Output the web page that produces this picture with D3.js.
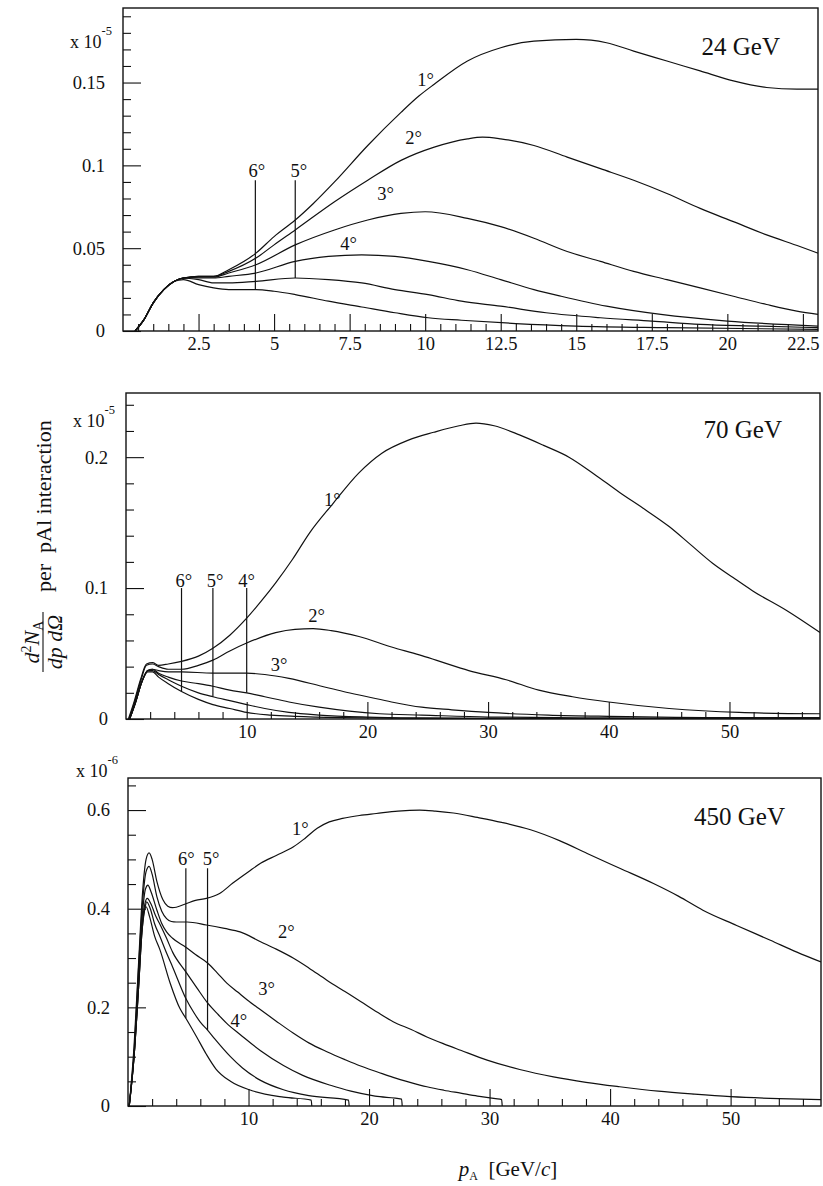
<!DOCTYPE html>
<html>
<head>
<meta charset="utf-8">
<script src="https://cdn.jsdelivr.net/npm/d3@7"></script>
<style>
  html, body { margin: 0; padding: 0; background: #fff; }
  svg { display: block; font-family: "Liberation Serif", "DejaVu Serif", serif; }
</style>
</head>
<body>
<svg id="fig" width="823" height="1186"></svg>
<script>
// Angular production spectra d2N/dp dOmega per pAl interaction,
// one curve per production angle, for three beam momenta.

const angleNames = ["1°", "2°", "3°", "4°", "5°", "6°"];

// ---- 24 GeV beam (values in units of 1e-5) ----
const p24_1 = [[0.4,0],[0.7,0.007],[1.0,0.017],[1.35,0.025],[1.7,0.030],[2.0,0.032],[2.5,0.033],[3.0,0.033],[3.5,0.037],[4.4,0.047],[5.0,0.057],[5.7,0.067],[6.3,0.077],[7.0,0.090],[8.1,0.112],[9.2,0.132],[9.8,0.142],[10.3,0.149],[11.4,0.163],[12.5,0.171],[13.6,0.175],[15.0,0.176],[16.0,0.174],[16.9,0.169],[18.0,0.163],[19.1,0.157],[20.2,0.151],[21.3,0.147],[22.3,0.146],[23.0,0.146]];
const p24_2 = [[0.4,0],[0.7,0.007],[1.0,0.017],[1.35,0.025],[1.7,0.030],[2.0,0.032],[2.5,0.033],[3.0,0.033],[3.5,0.036],[4.4,0.044],[5.0,0.052],[5.7,0.061],[7.0,0.078],[8.1,0.091],[9.2,0.103],[10.3,0.111],[11.4,0.116],[11.9,0.117],[12.5,0.116],[13.6,0.112],[14.7,0.105],[15.8,0.098],[16.9,0.091],[18.0,0.083],[19.1,0.074],[20.2,0.066],[21.3,0.058],[22.4,0.051],[23.0,0.047]];
const p24_3 = [[0.4,0],[0.7,0.007],[1.0,0.017],[1.35,0.025],[1.7,0.030],[2.0,0.032],[2.5,0.0325],[3.0,0.0325],[3.5,0.035],[4.4,0.040],[5.7,0.052],[7.0,0.061],[8.1,0.067],[9.2,0.071],[10.0,0.072],[11.4,0.068],[12.5,0.063],[13.6,0.056],[14.7,0.048],[15.8,0.042],[16.9,0.036],[18.0,0.031],[19.1,0.026],[20.2,0.021],[21.3,0.016],[22.3,0.012],[23.0,0.010]];
const p24_4 = [[0.4,0],[0.7,0.007],[1.0,0.017],[1.35,0.025],[1.7,0.030],[2.0,0.032],[2.5,0.032],[3.0,0.032],[3.5,0.033],[4.4,0.035],[5.7,0.042],[6.8,0.045],[7.9,0.046],[9.0,0.045],[10.1,0.042],[11.4,0.037],[12.5,0.031],[13.6,0.025],[14.5,0.021],[16.0,0.015],[17.8,0.010],[20.0,0.006],[23.0,0.003]];
const p24_5 = [[0.4,0],[0.7,0.007],[1.0,0.017],[1.35,0.025],[1.7,0.030],[2.0,0.032],[2.5,0.031],[3.0,0.029],[3.5,0.029],[4.4,0.030],[5.7,0.032],[6.8,0.031],[7.9,0.029],[9.0,0.025],[10.1,0.022],[11.2,0.018],[12.5,0.015],[14.0,0.011],[15.8,0.008],[17.5,0.006],[19.1,0.004],[21.0,0.003],[23.0,0.002]];
const p24_6 = [[0.4,0],[0.7,0.007],[1.0,0.017],[1.35,0.025],[1.7,0.030],[2.0,0.031],[2.5,0.028],[3.0,0.026],[3.5,0.025],[4.4,0.025],[5.0,0.024],[5.7,0.022],[6.8,0.018],[7.9,0.0145],[9.0,0.011],[10.1,0.008],[11.2,0.0065],[13.0,0.0045],[15.0,0.003],[18.0,0.002],[23.0,0.001]];

// ---- 70 GeV beam (units of 1e-5) ----
const p70_1 = [[0.2,0],[0.7,0.014],[1.2,0.030],[1.7,0.042],[2.2,0.043],[2.7,0.041],[3.5,0.042],[4.6,0.044],[6.0,0.048],[7.2,0.054],[8.6,0.064],[10.0,0.077],[11.2,0.090],[12.4,0.104],[13.8,0.122],[15.2,0.142],[17.1,0.164],[19.3,0.188],[21.2,0.203],[23.4,0.213],[25.5,0.219],[27.6,0.224],[29.0,0.226],[30.5,0.224],[32.6,0.217],[34.6,0.209],[36.7,0.200],[38.8,0.187],[40.9,0.173],[43.0,0.160],[45.0,0.147],[46.8,0.133],[48.6,0.119],[50.3,0.108],[51.9,0.098],[54.7,0.083],[57.5,0.066]];
const p70_2 = [[0.25,0],[0.75,0.014],[1.25,0.030],[1.7,0.041],[2.2,0.042],[2.7,0.040],[3.5,0.038],[4.6,0.038],[6.0,0.041],[7.2,0.045],[8.6,0.052],[10.0,0.058],[12.4,0.066],[14.0,0.0685],[15.5,0.069],[17.0,0.0675],[19.3,0.063],[22.0,0.055],[24.3,0.049],[26.0,0.044],[28.4,0.037],[31.5,0.030],[34.2,0.022],[37.0,0.017],[40.0,0.013],[45.0,0.008],[50.8,0.005],[57.5,0.004]];
const p70_3 = [[0.3,0],[0.8,0.013],[1.3,0.028],[1.8,0.037],[2.2,0.038],[2.7,0.037],[3.5,0.036],[4.6,0.036],[7.2,0.035],[10.0,0.035],[11.5,0.034],[13.5,0.031],[16.2,0.025],[18.0,0.021],[20.0,0.017],[22.0,0.013],[24.5,0.009],[27.0,0.007],[30.0,0.005],[35.0,0.003],[40.0,0.002],[50.0,0.001],[57.5,0.001]];
const p70_4 = [[0.3,0],[0.8,0.013],[1.3,0.028],[1.8,0.037],[2.2,0.038],[2.7,0.035],[3.5,0.032],[4.6,0.029],[6.0,0.027],[7.2,0.025],[8.6,0.022],[10.0,0.020],[11.5,0.017],[13.5,0.013],[16.0,0.009],[18.5,0.006],[21.0,0.004],[24.5,0.003],[30.0,0.0015],[40.0,0.0008],[57.5,0.0003]];
const p70_5 = [[0.3,0],[0.8,0.013],[1.3,0.028],[1.8,0.037],[2.2,0.037],[2.7,0.034],[3.5,0.030],[4.6,0.025],[6.0,0.020],[7.2,0.017],[8.6,0.014],[10.0,0.011],[11.5,0.008],[13.5,0.005],[16.0,0.003],[20.0,0.0015],[25.0,0.0008],[35.0,0.0003],[57.5,0.0001]];
const p70_6 = [[0.3,0],[0.8,0.013],[1.3,0.028],[1.8,0.036],[2.2,0.036],[2.7,0.032],[3.5,0.027],[4.6,0.021],[6.0,0.015],[7.2,0.011],[8.6,0.008],[10.0,0.005],[12.0,0.003],[14.0,0.002],[18.0,0.001],[25.0,0.0004],[57.5,0.0001]];

// ---- 450 GeV beam (units of 1e-6) ----
const p450_1 = [[0.1,0],[0.5,0.12],[0.9,0.30],[1.2,0.43],[1.5,0.50],[1.75,0.513],[2.0,0.50],[2.4,0.455],[2.9,0.418],[3.3,0.405],[3.7,0.402],[4.7,0.409],[5.6,0.417],[6.5,0.421],[7.6,0.431],[8.7,0.452],[10.0,0.475],[11.0,0.492],[12.3,0.508],[13.7,0.525],[14.7,0.543],[15.7,0.563],[16.7,0.576],[17.8,0.583],[19.2,0.589],[20.6,0.593],[22.4,0.598],[24.2,0.600],[25.5,0.598],[27.0,0.594],[29.0,0.585],[31.0,0.575],[33.4,0.560],[35.8,0.538],[38.1,0.512],[40.8,0.482],[43.6,0.451],[45.7,0.425],[47.7,0.397],[50.5,0.366],[53.3,0.336],[55.5,0.312],[57.5,0.292]];
const p450_2 = [[0.1,0],[0.5,0.11],[0.9,0.29],[1.2,0.41],[1.5,0.475],[1.75,0.486],[2.0,0.47],[2.4,0.424],[2.8,0.395],[3.2,0.38],[3.6,0.374],[4.0,0.373],[4.9,0.373],[6.5,0.367],[8.0,0.360],[9.3,0.353],[11.0,0.333],[12.3,0.318],[13.7,0.300],[15.0,0.280],[16.5,0.255],[18.0,0.232],[19.3,0.212],[20.7,0.190],[22.0,0.171],[23.5,0.155],[24.8,0.140],[26.2,0.126],[27.6,0.113],[29.8,0.093],[32.5,0.074],[35.3,0.059],[38.0,0.048],[40.8,0.039],[44.0,0.030],[47.0,0.024],[50.0,0.019],[54.0,0.015],[57.5,0.013]];
const p450_3 = [[0.1,0],[0.5,0.10],[0.9,0.27],[1.2,0.39],[1.45,0.44],[1.65,0.448],[1.9,0.435],[2.4,0.397],[2.8,0.37],[3.2,0.353],[3.7,0.340],[4.8,0.322],[5.6,0.307],[6.6,0.290],[7.4,0.270],[8.2,0.249],[9.1,0.231],[9.9,0.215],[11.0,0.195],[12.3,0.172],[13.7,0.148],[15.0,0.128],[16.5,0.110],[18.0,0.094],[19.3,0.081],[20.7,0.069],[22.0,0.058],[23.4,0.048],[24.8,0.039],[26.2,0.032],[27.6,0.026],[29.0,0.020],[30.5,0.015],[31.0,0.013],[31.05,0]];
const p450_4 = [[0.1,0],[0.5,0.10],[0.9,0.25],[1.15,0.36],[1.4,0.41],[1.6,0.421],[1.9,0.41],[2.3,0.385],[2.7,0.366],[3.2,0.340],[3.7,0.312],[4.8,0.272],[5.7,0.240],[6.6,0.209],[7.5,0.185],[8.3,0.165],[9.3,0.145],[11.0,0.112],[12.9,0.082],[14.5,0.062],[16.8,0.042],[18.5,0.030],[20.5,0.020],[22.7,0.014],[22.75,0]];
const p450_5 = [[0.1,0],[0.5,0.10],[0.9,0.25],[1.15,0.35],[1.4,0.40],[1.55,0.414],[1.85,0.40],[2.2,0.37],[2.66,0.343],[3.2,0.31],[3.7,0.282],[4.8,0.218],[5.5,0.188],[6.0,0.170],[6.6,0.154],[7.2,0.136],[8.5,0.100],[9.5,0.077],[11.0,0.052],[12.9,0.033],[15.0,0.021],[18.3,0.012],[18.35,0]];
const p450_6 = [[0.1,0],[0.5,0.10],[0.9,0.25],[1.15,0.35],[1.35,0.395],[1.5,0.404],[1.8,0.383],[2.2,0.345],[2.66,0.316],[3.5,0.249],[4.3,0.198],[4.8,0.178],[5.7,0.140],[6.5,0.105],[7.3,0.075],[8.5,0.050],[10.3,0.031],[12.9,0.018],[15.2,0.012],[15.25,0]];

// tick values and labels
const xTicks24 = [2.5, 5, 7.5, 10, 12.5, 15, 17.5, 20, 22.5];
const yTicks24 = [0, 0.05, 0.1, 0.15];
const xTicks70 = [10, 20, 30, 40, 50];
const yTicks70 = [0, 0.1, 0.2];
const xTicks450 = [10, 20, 30, 40, 50];
const yTicks450 = [0, 0.2, 0.4, 0.6];

// angle marker lines: position on the momentum axis and upper end
const markers24 = [{ a: 5, x: 4.38, top: 0.091 }, { a: 4, x: 5.7, top: 0.091 }];
const markers70 = [{ a: 5, x: 4.6, top: 0.1 }, { a: 4, x: 7.2, top: 0.1 }, { a: 3, x: 10.0, top: 0.1 }];
const markers450 = [{ a: 5, x: 4.8, top: 0.482 }, { a: 4, x: 6.6, top: 0.482 }];

// angle labels (left edge / baseline, in data units)
const labels24 = [{ a: 0, x: 9.74, y: 0.148 }, { a: 1, x: 9.34, y: 0.113 }, { a: 2, x: 8.41, y: 0.079 }, { a: 3, x: 7.19, y: 0.049 }, { a: 5, x: 4.15, y: 0.093 }, { a: 4, x: 5.54, y: 0.093 }];
const labels70 = [{ a: 0, x: 16.4, y: 0.163 }, { a: 1, x: 15.1, y: 0.074 }, { a: 2, x: 12.0, y: 0.037 }, { a: 5, x: 4.1, y: 0.101 }, { a: 4, x: 6.7, y: 0.101 }, { a: 3, x: 9.3, y: 0.101 }];
const labels450 = [{ a: 0, x: 13.6, y: 0.549 }, { a: 1, x: 12.45, y: 0.340 }, { a: 2, x: 10.8, y: 0.225 }, { a: 3, x: 8.5, y: 0.160 }, { a: 5, x: 4.15, y: 0.488 }, { a: 4, x: 6.2, y: 0.488 }];

const svg = d3.select("#fig");
const INK = "#111";
const SERIF = "'Liberation Serif', 'DejaVu Serif', serif";

const panels = [
  {
    id: "p24", energy: "24 GeV", exp: "-5",
    left: 123, right: 818, top: 8, bottom: 331,
    xDomain: [0, 23], yDomain: [0, 0.195],
    series: [p24_1, p24_2, p24_3, p24_4, p24_5, p24_6],
    xMajor: xTicks24, xMinor: d3.range(0.5, 23, 0.5), yMajor: yTicks24, yMinor: d3.range(0.01, 0.195, 0.01),
    markers: markers24, labels: labels24,
    expPos: [70, 48], energyPos: [780, 55]
  },
  {
    id: "p70", energy: "70 GeV", exp: "-5",
    left: 126, right: 820, top: 393, bottom: 719,
    xDomain: [0, 57.5], yDomain: [0, 0.249],
    series: [p70_1, p70_2, p70_3, p70_4, p70_5, p70_6],
    xMajor: xTicks70, xMinor: d3.range(2, 57.5, 2), yMajor: yTicks70, yMinor: d3.range(0.02, 0.249, 0.02),
    markers: markers70, labels: labels70,
    expPos: [73, 427], energyPos: [782, 438]
  },
  {
    id: "p450", energy: "450 GeV", exp: "-6",
    left: 128, right: 821, top: 778, bottom: 1106,
    xDomain: [0, 57.5], yDomain: [0, 0.665],
    series: [p450_1, p450_2, p450_3, p450_4, p450_5, p450_6],
    xMajor: xTicks450, xMinor: d3.range(2, 57.5, 2), yMajor: yTicks450, yMinor: d3.range(0.05, 0.665, 0.05),
    markers: markers450, labels: labels450,
    expPos: [76, 777], energyPos: [785, 825]
  }
];

const fmt = d => (d === 0 ? "0" : String(+d.toFixed(3)));

function styleAxis(g) {
  g.select(".domain").remove();
  g.selectAll(".tick line").attr("stroke", INK).attr("stroke-width", 1.1);
  g.selectAll(".tick text").attr("fill", INK);
  g.attr("font-family", SERIF).attr("font-size", 18.5);
}

panels.forEach(p => {
  const x = d3.scaleLinear().domain(p.xDomain).range([p.left, p.right]);
  const y = d3.scaleLinear().domain(p.yDomain).range([p.bottom, p.top]);
  const g = svg.append("g").attr("class", "panel");

  svg.append("defs").append("clipPath").attr("id", "clip-" + p.id)
    .append("rect").attr("x", p.left).attr("y", p.top)
    .attr("width", p.right - p.left).attr("height", p.bottom - p.top);

  // axes with inward ticks: minor then major
  const notMajorX = v => !p.xMajor.some(m => Math.abs(m - v) < 1e-9);
  g.append("g").attr("transform", `translate(0,${p.bottom})`)
    .call(d3.axisBottom(x).tickValues(p.xMinor.filter(notMajorX)).tickSize(-7).tickFormat(""))
    .call(styleAxis);
  g.append("g").attr("transform", `translate(0,${p.bottom})`)
    .call(d3.axisBottom(x).tickValues(p.xMajor).tickSize(-17).tickPadding(6).tickFormat(fmt))
    .call(styleAxis);
  const notMajorY = v => !p.yMajor.some(m => Math.abs(m - v) < 1e-9);
  g.append("g").attr("transform", `translate(${p.left},0)`)
    .call(d3.axisLeft(y).tickValues(p.yMinor.filter(notMajorY)).tickSize(-8).tickFormat(""))
    .call(styleAxis);
  g.append("g").attr("transform", `translate(${p.left},0)`)
    .call(d3.axisLeft(y).tickValues(p.yMajor).tickSize(-18).tickPadding(18).tickFormat(fmt))
    .call(styleAxis);

  // frame
  g.append("rect").attr("x", p.left).attr("y", p.top)
    .attr("width", p.right - p.left).attr("height", p.bottom - p.top)
    .attr("fill", "none").attr("stroke", INK).attr("stroke-width", 1.4);

  // spectra
  const line = d3.line().x(d => x(d[0])).y(d => y(d[1])).curve(d3.curveMonotoneX);
  const paths = p.series.map(s =>
    g.append("path").attr("d", line(s)).attr("clip-path", `url(#clip-${p.id})`)
      .attr("fill", "none").attr("stroke", INK).attr("stroke-width", 1.2)
  );

  // vertical angle markers ending on their own curve
  p.markers.forEach(m => {
    const node = paths[m.a].node();
    const px = x(m.x);
    let lo = 0, hi = node.getTotalLength();
    for (let i = 0; i < 40; i++) {
      const mid = (lo + hi) / 2;
      if (node.getPointAtLength(mid).x < px) lo = mid; else hi = mid;
    }
    const py = node.getPointAtLength((lo + hi) / 2).y;
    g.append("line").attr("x1", px).attr("x2", px).attr("y1", y(m.top)).attr("y2", py)
      .attr("stroke", INK).attr("stroke-width", 1.2);
  });

  // angle labels
  p.labels.forEach(l => {
    g.append("text").attr("x", x(l.x)).attr("y", y(l.y))
      .attr("font-size", 18.5).attr("fill", INK).text(angleNames[l.a]);
  });

  // scale factor and beam energy
  const e = g.append("text").attr("x", p.expPos[0]).attr("y", p.expPos[1])
    .attr("font-size", 18).attr("fill", INK).text("x 10");
  e.append("tspan").attr("dy", -13).attr("font-size", 12.5).text(p.exp);

  g.append("text").attr("x", p.energyPos[0]).attr("y", p.energyPos[1])
    .attr("text-anchor", "end").attr("font-size", 25).attr("fill", INK).text(p.energy);
});

// y-axis title (rotated), fraction below and text running upwards
const yt = svg.append("g").attr("transform", "translate(44,642) rotate(-90)")
  .attr("fill", INK).attr("font-family", SERIF);
const num = yt.append("text").attr("x", 0).attr("y", -5).attr("text-anchor", "middle")
  .attr("font-size", 22).attr("font-style", "italic");
num.append("tspan").text("d");
num.append("tspan").attr("dy", -8).attr("font-size", 14).attr("font-style", "normal").text("2");
num.append("tspan").attr("dy", 8).text("N");
num.append("tspan").attr("dy", 4).attr("font-size", 14).attr("font-style", "normal").text("A");
yt.append("line").attr("x1", -30).attr("x2", 30).attr("y1", -1).attr("y2", -1)
  .attr("stroke", INK).attr("stroke-width", 1.1);
yt.append("text").attr("x", 0).attr("y", 18).attr("text-anchor", "middle")
  .attr("font-size", 22).attr("font-style", "italic").text("dp dΩ");
yt.append("text").attr("x", 50).attr("y", 7).attr("font-size", 22).text("per\u00a0\u00a0pAl interaction");

// x-axis title
const xt = svg.append("text").attr("x", 508).attr("y", 1176).attr("text-anchor", "middle")
  .attr("font-size", 21).attr("fill", INK);
xt.append("tspan").attr("font-style", "italic").text("p");
xt.append("tspan").attr("dy", 4).attr("font-size", 12).text("A");
xt.append("tspan").attr("dy", -4).text("\u00a0\u00a0[GeV/");
xt.append("tspan").attr("font-style", "italic").text("c");
xt.append("tspan").text("]");
</script>
</body>
</html>
